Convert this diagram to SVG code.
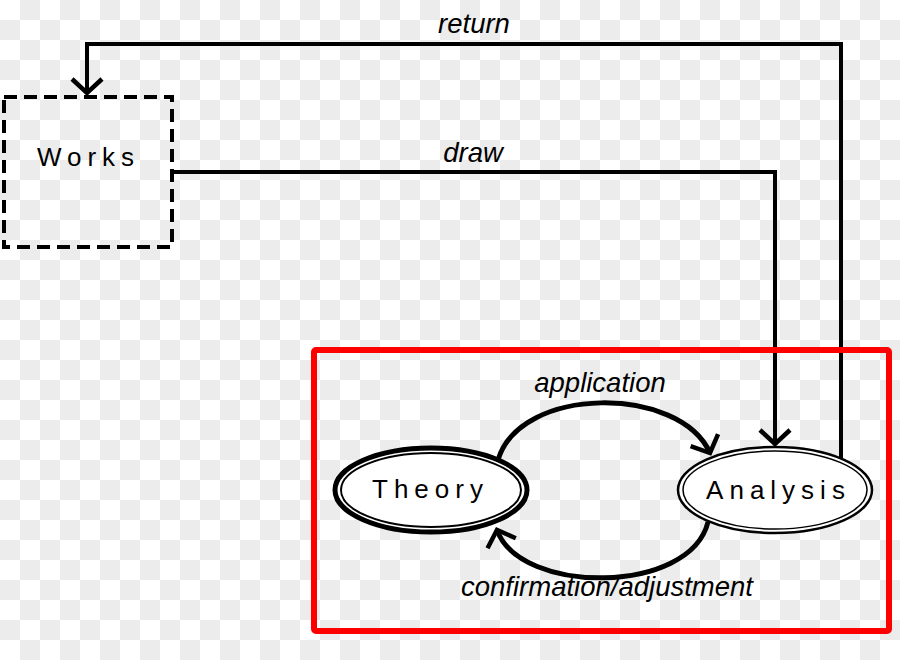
<svg xmlns="http://www.w3.org/2000/svg" width="900" height="660" viewBox="0 0 900 660">
<defs>
<pattern id="checker" patternUnits="userSpaceOnUse" width="40" height="40">
<rect width="40" height="40" fill="#ffffff"/>
<rect x="20" y="0" width="20" height="20" fill="#ececec"/>
<rect x="0" y="20" width="20" height="20" fill="#ececec"/>
</pattern>
<marker id="arrow" markerUnits="userSpaceOnUse" viewBox="-20 -20 40 40" markerWidth="40" markerHeight="40" refX="0" refY="0" orient="auto" overflow="visible">
<path d="M -14 -15 L 0 0 L -14 15" fill="none" stroke="#000" stroke-width="4.5" stroke-linejoin="miter"/>
</marker>
<style>
.conn { fill: none; stroke: #000; stroke-width: 4; }
.arc { stroke-width: 5; }
.node-label { font-family: "Liberation Sans", Arial, sans-serif; font-size: 26px; letter-spacing: 6px; fill: #000; text-anchor: middle; }
.edge-label { font-family: "Liberation Sans", Arial, sans-serif; font-size: 27.5px; font-style: italic; fill: #000; text-anchor: middle; }
</style>
</defs>
<rect width="900" height="660" fill="url(#checker)"/>

<g id="connectors">
<path class="conn" d="M 841 460 L 841 44 L 87 44 L 87 93" marker-end="url(#arrow)"/>
<path class="conn" d="M 172 172 L 775 172 L 775 444" marker-end="url(#arrow)"/>
<path class="conn arc" d="M 498 460 C 520 385, 680 385, 710 453" marker-end="url(#arrow)"/>
<path class="conn arc" d="M 708 522 C 690 595, 520 595, 497 530" marker-end="url(#arrow)"/>
<text class="edge-label" x="474" y="33">return</text>
<text class="edge-label" x="473" y="162">draw</text>
<text class="edge-label" x="600" y="392">application</text>
<text class="edge-label" x="607" y="596">confirmation/adjustment</text>
</g>

<g id="works">
<rect x="4" y="97" width="168" height="150" fill="none" stroke="#000" stroke-width="4" stroke-dasharray="13 7"/>
<text class="node-label" x="88.5" y="166">Works</text>
</g>

<g id="group-box">
<rect x="314" y="350" width="575" height="281" rx="2" fill="none" stroke="#ff0000" stroke-width="6"/>
</g>

<g id="theory">
<ellipse cx="431" cy="490" rx="96" ry="42" fill="#fff" stroke="#000" stroke-width="5"/>
<ellipse cx="431" cy="490" rx="90" ry="37" fill="none" stroke="#000" stroke-width="2"/>
<text class="node-label" x="430.5" y="498">Theory</text>
</g>

<g id="analysis">
<ellipse cx="775" cy="490" rx="97" ry="43" fill="#fff" stroke="#000" stroke-width="2.5"/>
<ellipse cx="775" cy="490" rx="92" ry="39" fill="none" stroke="#000" stroke-width="1.5"/>
<text class="node-label" x="778.5" y="499">Analysis</text>
</g>
</svg>
